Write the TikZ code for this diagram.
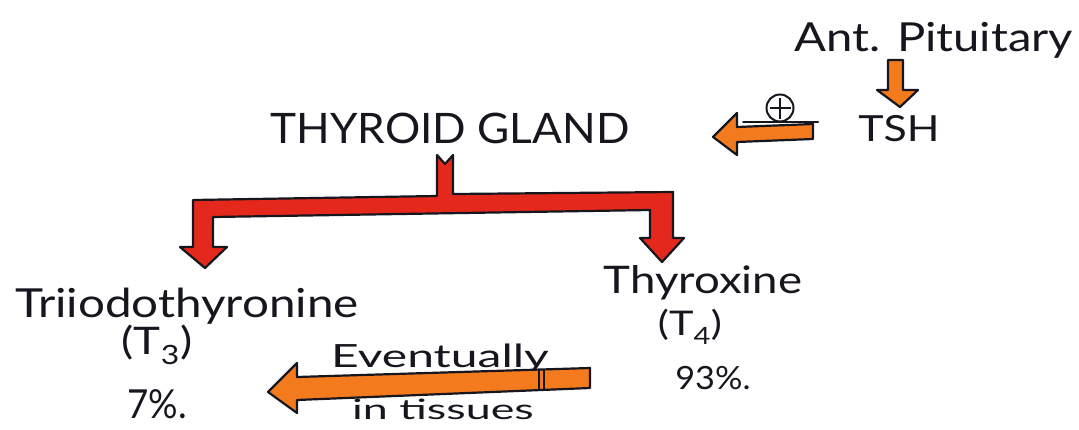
\documentclass[tikz,border=0pt]{standalone}
\usepackage{graphicx}
\usepackage{fontspec}
\setmainfont{Lato}
\definecolor{ink}{HTML}{16161E}
\definecolor{arrorange}{HTML}{F47A1E}
\definecolor{arrred}{HTML}{E5281C}
\newcommand{\hstretch}[2]{\scalebox{#1}[1]{#2}}
\begin{document}
\begin{tikzpicture}[x=1pt,y=-1pt,
  txt/.style={inner sep=0pt, text=ink},
  blockarrow/.style={draw=ink, line width=2.2pt, line join=round},
  orangearrow/.style={blockarrow, fill=arrorange},
  redarrow/.style={blockarrow, fill=arrred},
  inkline/.style={draw=ink, line width=2pt, line cap=round}]
\useasboundingbox (0,0) rectangle (1079,429);
% texts
\node[txt, font=\fontsize{40}{42}\selectfont] (ant) at (934,40) {\hstretch{1.18}{Ant. Pituitary}};
\node[txt, font=\fontsize{36}{38}\selectfont] (tsh) at (899,129) {\hstretch{1.19}{TSH}};
\node[txt, font=\fontsize{42}{44}\selectfont] (thy) at (450,128) {\hstretch{1.05}{THYROID GLAND}};
\node[txt, font=\fontsize{40}{42}\selectfont] (t3name) at (187,306) {\hstretch{1.19}{Triiodothyronine}};
\node[txt, font=\fontsize{38}{40}\selectfont] (t3) at (157,345) {\hstretch{1.2}{(T\textsubscript{3})}};
\node[txt, font=\fontsize{40}{42}\selectfont] (p7) at (157,404) {\hstretch{0.92}{7\%.}};
\node[txt, font=\fontsize{38}{40}\selectfont] (t4name) at (703,283) {\hstretch{1.2}{Thyroxine}};
\node[txt, font=\fontsize{34}{36}\selectfont] (t4) at (690,327) {\hstretch{1.22}{(T\textsubscript{4})}};
\node[txt, font=\fontsize{32}{34}\selectfont] (p93) at (713,378) {\hstretch{1.07}{93\%.}};
\node[txt, font=\fontsize{32}{34}\selectfont] (ev) at (440,358) {\hstretch{1.5}{Eventually}};
\node[txt, font=\fontsize{28}{30}\selectfont] (tis) at (443,409) {\hstretch{1.6}{in tissues}};
% Ant. Pituitary -> TSH
\path[orangearrow] (888,60) -- (903,60) -- (903,90) -- (918,90) -- (900,107) -- (877,90) -- (888,90) -- cycle;
% TSH -> Thyroid (stimulatory)
\path[orangearrow] (813,124) -- (737,127) -- (737,113) -- (713,137) -- (737,155) -- (737,142) -- (813,139) -- cycle;
\draw[inkline] (743,122) -- (818,122);
\node[draw=ink, line width=2pt, circle, minimum size=27pt, inner sep=0pt] (plus) at (780,108) {};
\draw[ink, line width=2pt] ([yshift=-4pt]plus.north) -- ([yshift=4pt]plus.south) ([xshift=4pt]plus.west) -- ([xshift=-4pt]plus.east);
% Thyroid -> T3 and T4 (red bracket)
\path[redarrow] (437,155) -- (445,164) -- (453,155) -- (453,194) -- (673,192) -- (673,238) -- (684,238) -- (662,262) -- (640,238) -- (650,238) -- (650,210) -- (213,217) -- (213,247) -- (227,247) -- (205,268) -- (180,247) -- (193,247) -- (193,200) -- (437,196) -- cycle;
% T4 -> T3 eventually in tissues
\path[orangearrow] (590,368) -- (297,377) -- (297,363) -- (268,392) -- (297,413) -- (297,400) -- (590,388) -- cycle;
\draw[ink, line width=1.2pt] (539,370) -- (539,390) (544,370) -- (544,390);
\end{tikzpicture}
\end{document}
